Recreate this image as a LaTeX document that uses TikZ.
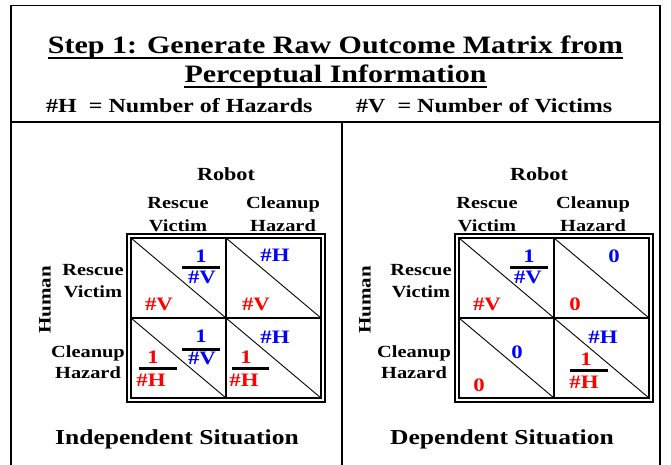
\documentclass[tikz,border=0pt]{standalone}
\usepackage{fontspec}
\setmainfont{Liberation Serif}[FakeStretch=1.2]
\begin{document}
\begin{tikzpicture}[x=1pt,y=-1pt,
  frame/.style={line width=1.5pt},
  divider/.style={line width=2pt},
  mat/.style={line width=1.4pt},
  diag/.style={line width=0.9pt},
  fbar/.style={line width=3pt, black},
  ttl/.style={inner sep=0pt, anchor=base, font=\bfseries\fontsize{25}{30}\selectfont},
  leg/.style={inner sep=0pt, anchor=base west, font=\bfseries\fontsize{20}{24}\selectfont},
  sit/.style={inner sep=0pt, anchor=base, font=\bfseries\fontsize{21.3}{25}\selectfont},
  rob/.style={inner sep=0pt, anchor=base, font=\bfseries\fontsize{18.5}{22}\selectfont},
  lbl/.style={inner sep=0pt, anchor=base, font=\bfseries\fontsize{17}{20}\selectfont},
  cell/.style={inner sep=0pt, anchor=base, font=\bfseries\fontsize{19}{22}\selectfont},
  bl/.style={cell, text=blue},
  rd/.style={cell, text=red}]
\useasboundingbox (0,0) rectangle (671,465);
% outer frame
\draw[frame] (11,475) -- (11,5.5) -- (660,5.5) -- (660,475);
\draw[divider] (11,122) -- (660,122);
\draw[divider] (342,122) -- (342,475);
% title
\node[ttl] (t1) at (335.5,54) {Step 1: Generate Raw Outcome Matrix from};
\node[ttl] (t2) at (335.5,83) {Perceptual Information};
\draw[line width=2pt] ([yshift=-4pt]t1.base west) -- ([yshift=-4pt]t1.base east);
\draw[line width=2pt] ([yshift=-4pt]t2.base west) -- ([yshift=-4pt]t2.base east);
\node[leg] (lh) at (46,113) {\#H\ \ = Number of Hazards};
\node[leg] (lv) at (356,113) {\#V\ \ = Number of Victims};
% situations
\node[sit] (s1) at (177,444) {Independent Situation};
\node[sit] (s2) at (502,444) {Dependent Situation};
% matrices
\foreach \ox in {0,328}{
  \begin{scope}[xshift=\ox]
  \draw[mat] (127,234) rectangle (325,402);
  \draw[mat] (131,238) rectangle (321,398);
  \draw[mat] (226,238) -- (226,398);
  \draw[mat] (131,318) -- (321,318);
  \draw[diag] (131,238) -- (226,318);
  \draw[diag] (226,238) -- (321,318);
  \draw[diag] (131,318) -- (226,398);
  \draw[diag] (226,318) -- (321,398);
  \end{scope}
}
% left panel labels
\node[rob] (r1) at (226,180.3) {Robot};
\node[lbl] (c1a) at (178,208.7) {Rescue};
\node[lbl] (c1b) at (178,231.7) {Victim};
\node[lbl] (c2a) at (283,208.7) {Cleanup};
\node[lbl] (c2b) at (283,231.7) {Hazard};
\node[lbl] (w1a) at (93,275.7) {Rescue};
\node[lbl] (w1b) at (93,297.7) {Victim};
\node[lbl] (w2a) at (88,357.7) {Cleanup};
\node[lbl] (w2b) at (88,378.7) {Hazard};
\node[inner sep=0pt, rotate=90, font=\bfseries\fontsize{17.5}{20}\selectfont] (h1) at (45,300) {Human};
% right panel labels
\node[rob] (r2) at (539,180.3) {Robot};
\node[lbl] (d1a) at (487,208.7) {Rescue};
\node[lbl] (d1b) at (487,231.7) {Victim};
\node[lbl] (d2a) at (593,208.7) {Cleanup};
\node[lbl] (d2b) at (593,231.7) {Hazard};
\node[lbl] (v1a) at (421,275.7) {Rescue};
\node[lbl] (v1b) at (421,297.7) {Victim};
\node[lbl] (v2a) at (414,357.7) {Cleanup};
\node[lbl] (v2b) at (414,378.7) {Hazard};
\node[inner sep=0pt, rotate=90, font=\bfseries\fontsize{17.5}{20}\selectfont] (h2) at (365,300) {Human};
% left matrix cells
\node[bl] (a11n) at (201,262.4) {1};
\draw[fbar] (182,267) -- (220,267);
\node[bl] (a11d) at (202,283.4) {\#V};
\node[rd] (a11r) at (159,310.4) {\#V};
\node[bl] (a12b) at (275,261.4) {\#H};
\node[rd] (a12r) at (256,310.4) {\#V};
\node[bl] (a21n) at (201,342.4) {1};
\draw[fbar] (182,349) -- (220,349);
\node[bl] (a21d) at (202,364.4) {\#V};
\node[rd] (a21rn) at (153,363.4) {1};
\draw[fbar] (139,368) -- (177,368);
\node[rd] (a21rd) at (151,386.4) {\#H};
\node[bl] (a22b) at (275,343.4) {\#H};
\node[rd] (a22rn) at (246,363.4) {1};
\draw[fbar] (232,368) -- (269,368);
\node[rd] (a22rd) at (244,386.4) {\#H};
% right matrix cells
\node[bl] (b11n) at (529,262.4) {1};
\draw[fbar] (510,267) -- (548,267);
\node[bl] (b11d) at (528,283.4) {\#V};
\node[rd] (b11r) at (487,310.4) {\#V};
\node[bl] (b12b) at (614,262.4) {0};
\node[rd] (b12r) at (575,310.4) {0};
\node[bl] (b21b) at (517,358.4) {0};
\node[rd] (b21r) at (479,391.4) {0};
\node[bl] (b22b) at (603,343.4) {\#H};
\node[rd] (b22rn) at (586,365.4) {1};
\draw[fbar] (570,370) -- (608,370);
\node[rd] (b22rd) at (584,388.4) {\#H};
\end{tikzpicture}
\end{document}
